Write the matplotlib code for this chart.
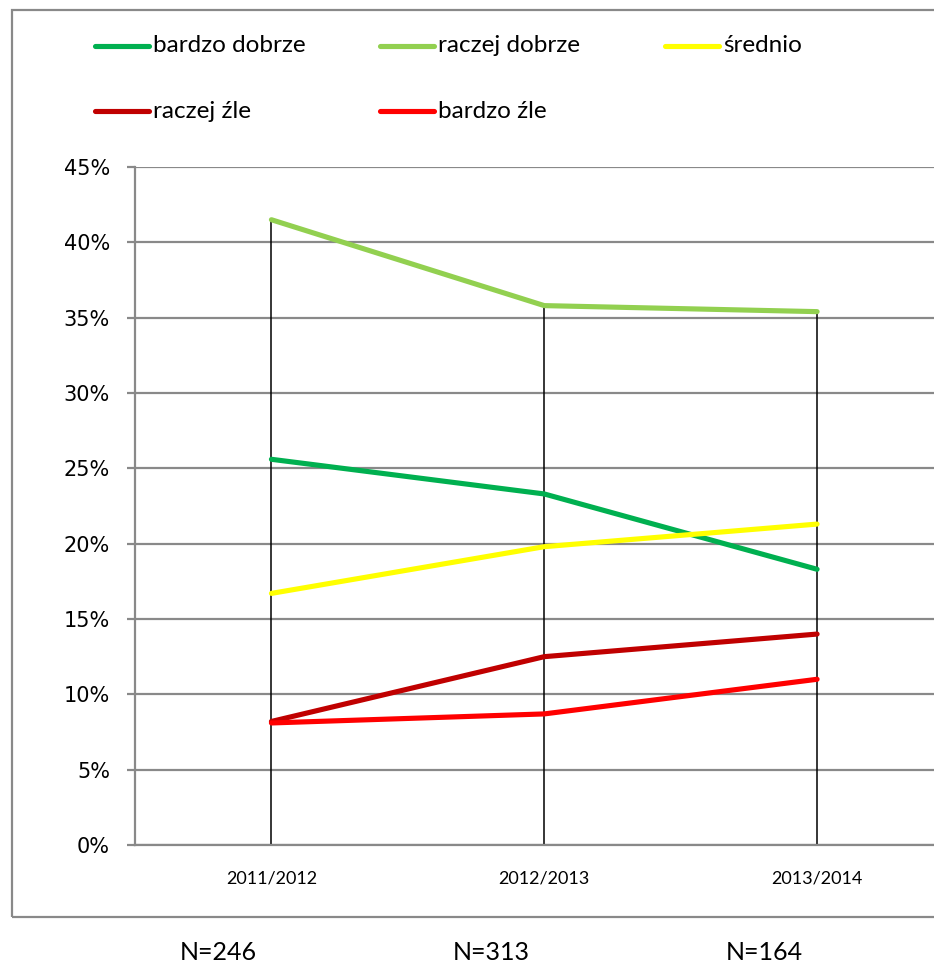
import matplotlib
matplotlib.use("Agg")
import matplotlib.pyplot as plt
from matplotlib.lines import Line2D
from matplotlib.patches import Rectangle
from matplotlib.ticker import PercentFormatter

# data (percent)
years = ['2011/2012', '2012/2013', '2013/2014']
n_labels = ['N=246', 'N=313', 'N=164']
series_names = ['bardzo dobrze', 'raczej dobrze', 'średnio', 'raczej źle', 'bardzo źle']
bardzo_dobrze = [25.6, 23.3, 18.3]
raczej_dobrze = [41.5, 35.8, 35.4]
srednio = [16.7, 19.8, 21.3]
raczej_zle = [8.2, 12.5, 14.0]
bardzo_zle = [8.1, 8.7, 11.0]
colors = ['#00B050', '#92D050', '#FFFF00', '#C00000', '#FF0000']

all_series = [bardzo_dobrze, raczej_dobrze, srednio, raczej_zle, bardzo_zle]

W, H = 934, 964
fig = plt.figure(figsize=(W / 100, H / 100), dpi=100)
label_font = ['Lato', 'DejaVu Sans']

# outer chart frame (right side runs off the picture)
fig.add_artist(Rectangle((12 / W, 1 - 917 / H), 1.0, (917 - 10) / H,
                         transform=fig.transFigure, fill=False,
                         edgecolor='#898989', lw=1.6))

ax = fig.add_axes([135 / W, 1 - 845 / H, 818.5 / W, 678 / H])
x = list(range(len(years)))

# high-low drop lines from the top value down to zero
tops = [max(vals) for vals in zip(*all_series)]
ax.vlines(x, 0, tops, colors='black', lw=1.1, zorder=2)

for name, vals, c in zip(series_names, all_series, colors):
    ax.plot(x, vals, color=c, lw=3.7, solid_capstyle='round', zorder=3, label=name)

ax.set_xlim(-0.5, 2.5)
ax.set_ylim(0, 45)
ax.set_yticks(range(0, 46, 5))
ax.yaxis.set_major_formatter(PercentFormatter(decimals=0))
ax.grid(axis='y', color='#898989', lw=1.6)
ax.set_axisbelow(True)
for s in ['top', 'right']:
    ax.spines[s].set_visible(False)
ax.spines['left'].set_color('#898989')
ax.spines['left'].set_linewidth(1.6)
ax.spines['bottom'].set_color('#898989')
ax.spines['bottom'].set_linewidth(1.6)
ax.tick_params(axis='y', length=6, width=1.6, color='#898989', pad=12,
               labelsize=15, labelcolor='black')
ax.tick_params(axis='x', length=0, pad=18)
ax.set_xticks(x)
ax.set_xticklabels(years, fontsize=13, family=label_font)
for lab in ax.get_yticklabels():
    lab.set_family('DejaVu Sans')

# legend placed by hand, two rows
leg_pos = [(95, 46), (380, 46), (665, 46), (95, 111), (380, 111)]
for (px, py), name, c in zip(leg_pos, series_names, colors):
    fig.add_artist(Line2D([px / W, (px + 54) / W], [1 - py / H, 1 - py / H],
                          transform=fig.transFigure, color=c, lw=3.7,
                          solid_capstyle='round'))
    fig.text((px + 58) / W, 1 - py / H, name, fontsize=17.5, family=label_font,
             va='center', ha='left')

# sample sizes under the chart
for xi, lab in zip(x, n_labels):
    fig.text(ax.transData.transform((xi, 0))[0] / W - 53 / W, 1 - 952 / H, lab,
             fontsize=18, family=label_font, ha='center', va='center')

fig.savefig('out.png', dpi=100)
